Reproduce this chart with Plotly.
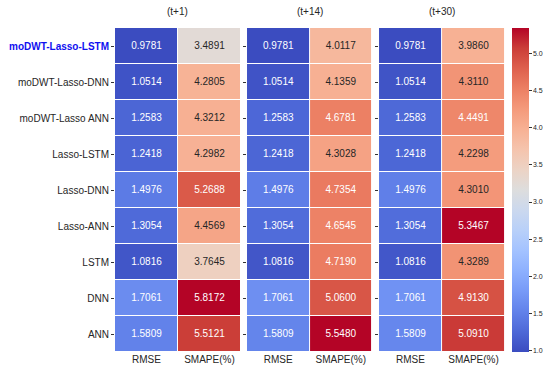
import numpy as np
import plotly.graph_objects as go

models = ["moDWT-Lasso-LSTM", "moDWT-Lasso-DNN", "moDWT-Lasso ANN", "Lasso-LSTM",
          "Lasso-DNN", "Lasso-ANN", "LSTM", "DNN", "ANN"]
metrics = ["RMSE", "SMAPE(%)"]
horizons = ["(t+1)", "(t+14)", "(t+30)"]
rmse = [0.9781, 1.0514, 1.2583, 1.2418, 1.4976, 1.3054, 1.0816, 1.7061, 1.5809]
smape_t1 = [3.4891, 4.2805, 4.3212, 4.2982, 5.2688, 4.4569, 3.7645, 5.8172, 5.5121]
smape_t14 = [4.0117, 4.1359, 4.6781, 4.3028, 4.7354, 4.6545, 4.7190, 5.0600, 5.5480]
smape_t30 = [3.9860, 4.3110, 4.4491, 4.2298, 4.3010, 5.3467, 4.3289, 4.9130, 5.0910]
colorbar_ticks = [1.0, 1.5, 2.0, 2.5, 3.0, 3.5, 4.0, 4.5, 5.0]

# matplotlib "coolwarm" approximation
cw = [
    (0.0, (0.2298, 0.2987, 0.7537)), (0.0625, (0.3020, 0.4078, 0.8431)),
    (0.125, (0.3843, 0.5098, 0.9176)), (0.1875, (0.4667, 0.6039, 0.9686)),
    (0.25, (0.5529, 0.6902, 0.9961)), (0.3125, (0.6392, 0.7608, 1.0)),
    (0.375, (0.7216, 0.8157, 0.9765)), (0.4375, (0.7961, 0.8471, 0.9333)),
    (0.5, (0.8667, 0.8667, 0.8667)), (0.5625, (0.9255, 0.8275, 0.7725)),
    (0.625, (0.9608, 0.7686, 0.6784)), (0.6875, (0.9686, 0.6941, 0.5804)),
    (0.75, (0.9569, 0.6039, 0.4824)), (0.8125, (0.9255, 0.4980, 0.3882)),
    (0.875, (0.8706, 0.3765, 0.3020)), (0.9375, (0.7961, 0.2431, 0.2196)),
    (1.0, (0.7059, 0.0157, 0.1490)),
]
colorscale = [[p, "rgb(%d,%d,%d)" % tuple(round(c * 255) for c in rgb)] for p, rgb in cw]
cw_pos = np.array([p for p, _ in cw])
cw_rgb = np.array([rgb for _, rgb in cw])


def text_color(v, vmin, vmax):
    t = (v - vmin) / (vmax - vmin)
    rgb = np.array([np.interp(t, cw_pos, cw_rgb[:, k]) for k in range(3)])
    lin = np.where(rgb <= 0.03928, rgb / 12.92, ((rgb + 0.055) / 1.055) ** 2.4)
    lum = lin.dot([0.2126, 0.7152, 0.0722])
    return "#262626" if lum > 0.408 else "white"


FONT = "Liberation Sans, Arial, sans-serif"
fig = go.Figure()
domains = [[0.0, 0.323], [0.3385, 0.659], [0.677, 1.0]]
smapes = [smape_t1, smape_t14, smape_t30]

for i, (sm, h) in enumerate(zip(smapes, horizons)):
    z = [[r, s] for r, s in zip(rmse, sm)]
    vmin = min(min(rmse), min(sm))
    vmax = max(max(rmse), max(sm))
    xa = "x" if i == 0 else "x%d" % (i + 1)
    ya = "y" if i == 0 else "y%d" % (i + 1)
    hm = go.Heatmap(
        z=z, x=metrics, y=models, zmin=vmin, zmax=vmax, colorscale=colorscale,
        xgap=1, ygap=1, xaxis=xa, yaxis=ya, hoverinfo="skip",
        showscale=(i == 2),
    )
    if i == 2:
        hm.colorbar = dict(
            x=1.019, xanchor="left", xref="paper", xpad=0, ypad=0,
            y=0.5, yanchor="middle",
            len=1.0, lenmode="fraction", thickness=17, outlinewidth=0,
            tickvals=colorbar_ticks, ticktext=["%.1f" % t for t in colorbar_ticks],
            ticks="outside", ticklen=3, tickwidth=1, tickcolor="#333",
            tickfont=dict(family=FONT, size=7, color="#262626"),
        )
    fig.add_trace(hm)
    xs, ys, txt, cols = [], [], [], []
    for m, r, s in zip(models, rmse, sm):
        for metric, v in zip(metrics, (r, s)):
            xs.append(metric)
            ys.append(m)
            txt.append("%.4f" % v)
            cols.append(text_color(v, vmin, vmax))
    fig.add_trace(go.Scatter(
        x=xs, y=ys, mode="text", text=txt, xaxis=xa, yaxis=ya,
        textfont=dict(family=FONT, size=10, color=cols), hoverinfo="skip",
        showlegend=False,
    ))
    key = "" if i == 0 else str(i + 1)
    fig.layout["xaxis" + key] = dict(
        domain=domains[i], anchor=ya, showgrid=False, zeroline=False,
        range=[-0.5, len(metrics) - 0.5], automargin=False,
        ticks="", tickfont=dict(family=FONT, size=10, color="#262626"),
        categoryorder="array", categoryarray=metrics,
    )
    ytext = ["<b><span style='color:#1010F0'>%s</span></b>" % models[0]] + models[1:]
    fig.layout["yaxis" + key] = dict(
        domain=[0, 1], anchor=xa, range=[len(models) - 0.5, -0.5], showgrid=False,
        zeroline=False, ticks="outside", ticklen=3, tickwidth=1, tickcolor="#333",
        showticklabels=(i == 0), tickvals=models, ticktext=ytext, automargin=False,
        tickfont=dict(family=FONT, size=10, color="#262626"),
        categoryorder="array", categoryarray=models,
    )
    fig.add_annotation(
        text=h, xref="paper", yref="paper", x=sum(domains[i]) / 2, y=1.052,
        showarrow=False, font=dict(family=FONT, size=10, color="#262626"),
        xanchor="center", yanchor="middle",
    )

fig.update_layout(
    width=550, height=371,
    margin=dict(l=115, r=45, t=28, b=19, autoexpand=False),
    paper_bgcolor="white", plot_bgcolor="white", showlegend=False,
)
fig.write_html(
    "out.html",
    config={"displayModeBar": False},
    post_script="document.body.style.margin='0';document.body.style.overflow='hidden';",
)
